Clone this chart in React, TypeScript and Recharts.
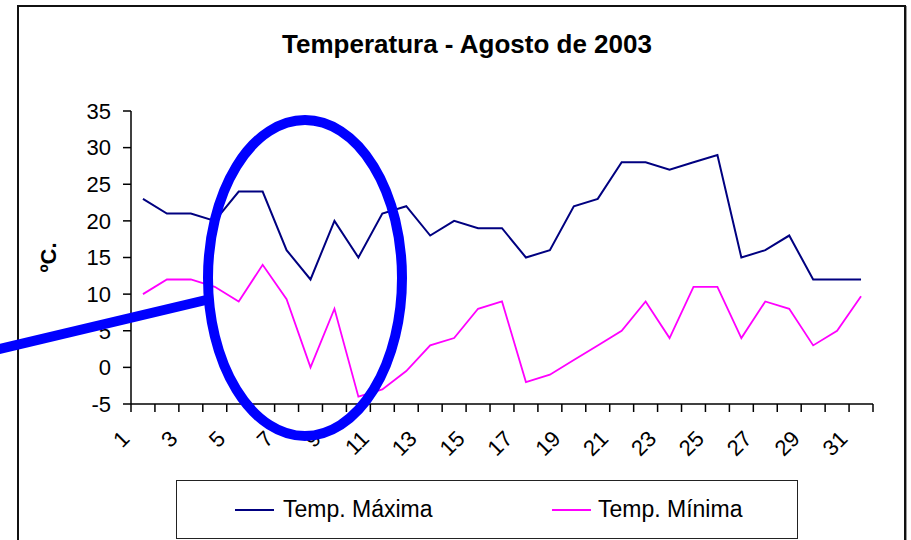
import { LineChart, Line, XAxis, YAxis, Legend, Label } from "recharts";

const days = [
  "1", "2", "3", "4", "5", "6", "7", "8", "9", "10", "11", "12", "13", "14", "15", "16",
  "17", "18", "19", "20", "21", "22", "23", "24", "25", "26", "27", "28", "29", "30", "31",
];
const tempMax = [23, 21, 21, 20, 24, 24, 16, 12, 20, 15, 21, 22, 18, 20, 19, 19, 15, 16, 22, 23, 28, 28, 27, 28, 29, 15, 16, 18, 12, 12, 12];
const tempMin = [10, 12, 12, 11, 9, 14, 9.3, 0, 8, -4, -3, -0.5, 3, 4, 8, 9, -2, -1, 1, 3, 5, 9, 4, 11, 11, 4, 9, 8, 3, 5, 9.7];
const yTicks = [-5, 0, 5, 10, 15, 20, 25, 30, 35];

const data = days.map((d, i) => ({ day: d, max: tempMax[i], min: tempMin[i] }));

const FONT = "'Liberation Sans', Arial, sans-serif";
const W = 911;
const H = 540;
const PLOT_LEFT = 131;
const PLOT_RIGHT = 873;
const PLOT_BOTTOM = 404;
const BAND = (PLOT_RIGHT - PLOT_LEFT) / days.length;

// excel style: tick marks between categories, labels only on odd days
function DayTick(props: any) {
  const { x, payload, index } = props;
  const last = index === days.length - 1;
  const lx = x - 12;
  const ly = PLOT_BOTTOM + 36;
  return (
    <g>
      <line x1={x - BAND / 2} x2={x - BAND / 2} y1={PLOT_BOTTOM} y2={PLOT_BOTTOM + 8} stroke="#000" strokeWidth={1.5} />
      {last && (
        <line x1={x + BAND / 2} x2={x + BAND / 2} y1={PLOT_BOTTOM} y2={PLOT_BOTTOM + 8} stroke="#000" strokeWidth={1.5} />
      )}
      {index % 2 === 0 && (
        <text
          x={lx}
          y={ly}
          transform={`rotate(-45, ${lx}, ${ly})`}
          textAnchor="end"
          fontSize={22}
          fontFamily={FONT}
          fill="#000"
        >
          {payload.value}
        </text>
      )}
    </g>
  );
}

function LegendBox(props: any) {
  const items = props.payload || [];
  const spots = [
    { line: 58, text: 106 },
    { line: 375, text: 421 },
  ];
  return (
    <div
      style={{
        position: "relative",
        width: 622,
        height: 59,
        border: "1.5px solid #222",
        boxSizing: "border-box",
        background: "#fff",
        fontFamily: FONT,
        fontSize: 23,
        color: "#000",
      }}
    >
      {items.map((it: any, i: number) => (
        <div key={it.value}>
          <div
            style={{
              position: "absolute",
              left: spots[i].line,
              top: 28,
              width: 39,
              height: 2,
              background: it.color,
            }}
          />
          <div
            style={{
              position: "absolute",
              left: spots[i].text,
              top: 14,
              lineHeight: "28px",
              whiteSpace: "nowrap",
            }}
          >
            {it.value}
          </div>
        </div>
      ))}
    </div>
  );
}

export default function App() {
  return (
    <div style={{ position: "absolute", left: 0, top: 0, width: W, height: H, overflow: "hidden", background: "#fff" }}>
      <div
        style={{
          position: "absolute",
          left: 17,
          top: 5,
          width: 889,
          height: 600,
          border: "2px solid #111",
          boxSizing: "border-box",
          boxShadow: "1px 1px 0 #999",
        }}
      />
      <div style={{ position: "absolute", left: 0, top: 0 }}>
        <LineChart width={W} height={H} data={data} margin={{ top: 111, right: W - PLOT_RIGHT, left: 20, bottom: 86 }}>
          <XAxis
            dataKey="day"
            interval={0}
            height={50}
            padding={{ left: BAND / 2, right: BAND / 2 }}
            tickLine={false}
            axisLine={{ stroke: "#000", strokeWidth: 1.5 }}
            tick={<DayTick />}
          />
          <YAxis
            width={111}
            domain={[-5, 35]}
            ticks={yTicks}
            interval={0}
            tickSize={8}
            tickMargin={12}
            axisLine={{ stroke: "#000", strokeWidth: 1.5 }}
            tickLine={{ stroke: "#000", strokeWidth: 1.5 }}
            tick={{ fill: "#000", fontSize: 22, fontFamily: FONT }}
          >
            <Label
              content={(p: any) => {
                const cy = p.viewBox ? p.viewBox.y + p.viewBox.height / 2 : 258;
                return (
                  <text
                    x={56}
                    y={cy}
                    transform={`rotate(-90, 56, ${cy})`}
                    textAnchor="middle"
                    fontSize={22}
                    fontWeight="bold"
                    fontFamily={FONT}
                    fill="#000"
                  >
                    ºC.
                  </text>
                );
              }}
            />
          </YAxis>
          <Legend
            verticalAlign="middle"
            align="center"
            layout="horizontal"
            wrapperStyle={{ left: 176, top: 480, width: 622, height: 59 }}
            content={<LegendBox />}
          />
          <Line
            type="linear"
            dataKey="max"
            name="Temp. Máxima"
            stroke="#000080"
            strokeWidth={2}
            dot={false}
            isAnimationActive={false}
          />
          <Line
            type="linear"
            dataKey="min"
            name="Temp. Mínima"
            stroke="#FF00FF"
            strokeWidth={1.8}
            dot={false}
            isAnimationActive={false}
          />
        </LineChart>
      </div>
      <svg width={W} height={H} style={{ position: "absolute", left: 0, top: 0, pointerEvents: "none" }}>
        <text x={467} y={53} textAnchor="middle" fontSize={26} fontWeight="bold" fontFamily={FONT} fill="#000">
          Temperatura - Agosto de 2003
        </text>
        <line x1={-5} y1={350} x2={206} y2={300} stroke="#0000FF" strokeWidth={10} />
        <ellipse cx={305} cy={278} rx={97} ry={158} fill="none" stroke="#0000FF" strokeWidth={10} />
      </svg>
    </div>
  );
}
